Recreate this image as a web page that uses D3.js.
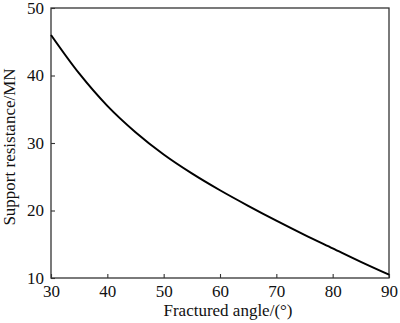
<!DOCTYPE html>
<html>
<head>
<meta charset="utf-8">
<script src="https://cdn.jsdelivr.net/npm/d3@7"></script>
<style>
  html, body { margin: 0; padding: 0; background: #fff; }
  svg { display: block; }
  text { font-family: "Liberation Serif", "Times New Roman", serif; fill: #111; }
</style>
</head>
<body>
<svg id="chart" width="400" height="323"></svg>
<script>
// Fractured angle (°) vs. support resistance (MN)
const angles = [30, 35, 40, 45, 50, 55, 60, 65, 70, 75, 80, 85, 90];
const resistance = [46.0, 40.3, 35.5, 31.6, 28.3, 25.5, 23.0, 20.7, 18.5, 16.4, 14.4, 12.4, 10.5];
const xTicks = [30, 40, 50, 60, 70, 80, 90];
const yTicks = [10, 20, 30, 40, 50];

const margin = { left: 51, right: 11, top: 8, bottom: 45 };
const W = 400, H = 323;
const svg = d3.select("#chart");

const x = d3.scaleLinear().domain([30, 90]).range([margin.left, W - margin.right]);
const y = d3.scaleLinear().domain([10, 50]).range([H - margin.bottom, margin.top]);

// Frame
svg.append("rect")
  .attr("x", x(30)).attr("y", y(50))
  .attr("width", x(90) - x(30)).attr("height", y(10) - y(50))
  .attr("fill", "none").attr("stroke", "#333").attr("stroke-width", 1.3);

// Bottom axis, ticks pointing inward
const xAxis = svg.append("g")
  .attr("transform", `translate(0,${y(10)})`)
  .call(d3.axisBottom(x).tickValues(xTicks).tickSizeInner(-4).tickSizeOuter(0).tickPadding(7));
xAxis.select(".domain").remove();
xAxis.selectAll(".tick line").attr("stroke", "#333").attr("stroke-width", 1.1);
xAxis.selectAll(".tick text")
  .style("font-family", '"Liberation Serif", serif').style("font-size", "17px").attr("fill", "#111");

// Left axis, ticks pointing inward
const yAxis = svg.append("g")
  .attr("transform", `translate(${x(30)},0)`)
  .call(d3.axisLeft(y).tickValues(yTicks).tickSizeInner(-4).tickSizeOuter(0).tickPadding(7));
yAxis.select(".domain").remove();
yAxis.selectAll(".tick line").attr("stroke", "#333").attr("stroke-width", 1.1);
yAxis.selectAll(".tick text")
  .style("font-family", '"Liberation Serif", serif').style("font-size", "17px").attr("fill", "#111");

// Curve
const line = d3.line()
  .x((d, i) => x(angles[i]))
  .y(d => y(d))
  .curve(d3.curveCatmullRom);
svg.append("path")
  .datum(resistance)
  .attr("d", line)
  .attr("fill", "none")
  .attr("stroke", "#000")
  .attr("stroke-width", 2);

// Axis titles
svg.append("text")
  .attr("x", (x(30) + x(90)) / 2 + 8).attr("y", 316)
  .attr("text-anchor", "middle").style("font-size", "17px")
  .text("Fractured angle/(°)");

svg.append("text")
  .attr("transform", `translate(15,${(y(10) + y(50)) / 2 + 4}) rotate(-90)`)
  .attr("text-anchor", "middle").style("font-size", "17px")
  .text("Support resistance/MN");
</script>
</body>
</html>
